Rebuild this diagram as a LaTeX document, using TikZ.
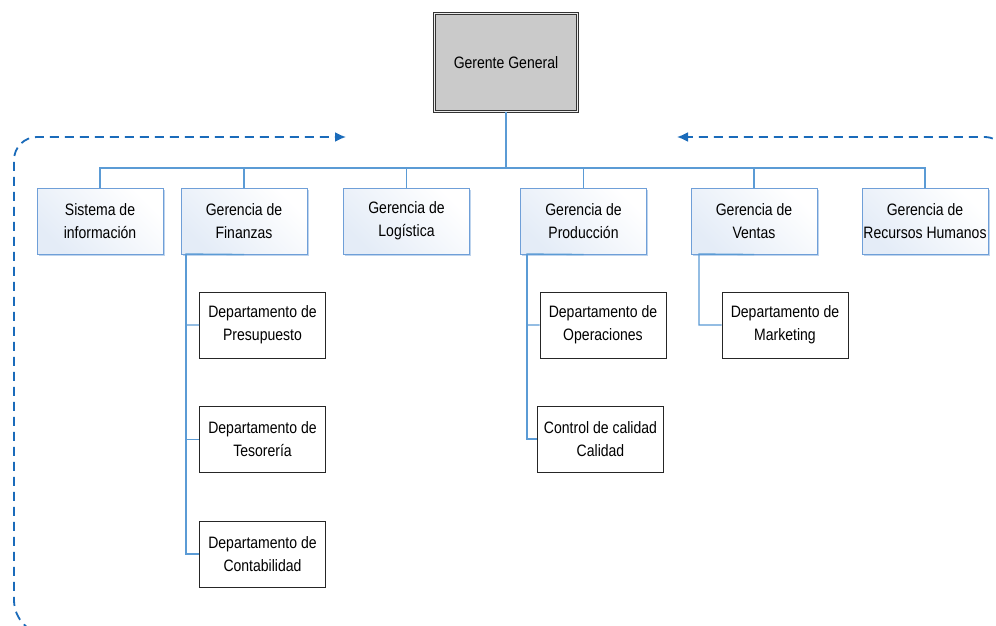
\documentclass[tikz,border=0pt]{standalone}
\usepackage{fontspec}
\setmainfont{Liberation Sans}[FakeStretch=0.85]
\usetikzlibrary{arrows.meta,shadows}
\definecolor{connblue}{HTML}{5B9BD5}
\definecolor{boxblue}{HTML}{6F9FD8}
\definecolor{fillblue}{HTML}{E4ECF7}
\definecolor{dashblue}{HTML}{1A6BBA}
\definecolor{ggfill}{HTML}{CACACA}
\newcommand{\nodefont}{\fontsize{16.5}{23}\selectfont}
\begin{document}
\begin{tikzpicture}[x=1pt,y=-1pt,
  conn/.style={draw=connblue, line width=1.3pt},
  lvltwo/.style={draw=boxblue, line width=1pt, left color=fillblue, right color=white, shading angle=135,
    minimum width=126pt, minimum height=66pt, align=center, font=\nodefont, inner sep=0pt,
    drop shadow={shadow xshift=1.5pt, shadow yshift=-1.5pt, fill=boxblue!45, opacity=1}},
  lvlthree/.style={draw=black!85, line width=0.9pt, fill=white,
    minimum width=126pt, minimum height=66pt, align=center, font=\nodefont, inner sep=0pt},
  topbox/.style={draw=black!80, line width=0.9pt, double=gray!15, double distance=1.6pt, fill=ggfill,
    minimum width=143pt, minimum height=98pt, align=center, font=\nodefont, inner sep=0pt},
  dashline/.style={draw=dashblue, line width=1.8pt, dash pattern=on 9pt off 6pt},
  tip/.style={-{Latex[length=11pt,width=10pt]}}
]
\useasboundingbox (0,0) rectangle (996,626);
\clip (0,0) rectangle (996,626);
\fill[white] (0,0) rectangle (996,626);

% dashed feedback loop
\draw[dashline, tip] (60,635) [rounded corners=35pt] -| (14,400) [rounded corners=23pt] |- (346,137);
\draw[dashline, tip, rounded corners=28pt] (1012,400) |- (677,137);

% nodes
\node[topbox] (gg) at (506,62.5) {Gerente General};

\node[lvltwo] (sis) at (100,221) {Sistema de\\información};
\node[lvltwo] (fin) at (244,221) {Gerencia de\\Finanzas};
\node[lvltwo] (log) at (406.5,221) {Gerencia de\\Logística};
\node[lvltwo] (prod) at (583.5,221) {Gerencia de\\Producción};
\node[lvltwo] (ven) at (754,221) {Gerencia de\\Ventas};
\node[lvltwo] (rh) at (925,221) {Gerencia de\\Recursos Humanos};

\node[lvlthree] (pre) at (262.5,325) {Departamento de\\Presupuesto};
\node[lvlthree] (tes) at (262.5,439.5) {Departamento de\\Tesorería};
\node[lvlthree] (con) at (262.5,554) {Departamento de\\Contabilidad};
\node[lvlthree] (ope) at (603,325) {Departamento de\\Operaciones};
\node[lvlthree] (cal) at (600.5,439) {Control de calidad\\Calidad};
\node[lvlthree] (mkt) at (785,325) {Departamento de\\Marketing};

% connectors
\coordinate (bus) at (506,168);
\coordinate (finbar) at (186,254);
\coordinate (prodbar) at (527,254);
\coordinate (venbar) at (699,254);

\draw[conn] (gg.south) -- (bus);
\foreach \n in {sis,fin,log,prod,ven,rh}{
  \draw[conn] (bus) -| (\n.north);
}
\draw[conn] (fin.south) -- (finbar) |- (pre.west);
\draw[conn] (finbar) |- (tes.west);
\draw[conn] (finbar) |- (con.west);
\draw[conn] (prod.south) -- (prodbar) |- (ope.west);
\draw[conn] (prodbar) |- (cal.west);
\draw[conn] (ven.south) -- (venbar) |- (mkt.west);
\end{tikzpicture}
\end{document}
